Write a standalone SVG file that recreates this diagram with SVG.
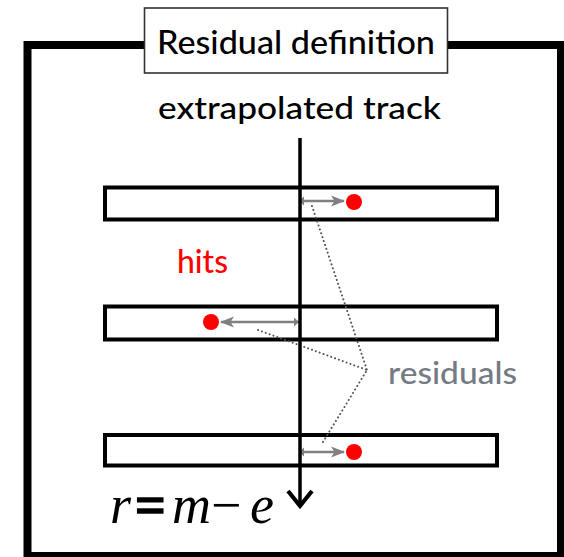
<svg xmlns="http://www.w3.org/2000/svg" width="564" height="557" viewBox="0 0 564 557">
<style>
.sans{font-family:Lato,"Open Sans","Liberation Sans",sans-serif;}
.bar{fill:#fff;stroke:#000;stroke-width:4;}
.hit{fill:#ff0000;}
.res{stroke:#808080;stroke-width:2.4;fill:none;}
.dot{stroke:#555;stroke-width:2;stroke-linecap:round;stroke-dasharray:0.1 4;fill:none;}
.math{font-family:"Liberation Serif","DejaVu Serif",serif;font-size:54px;fill:#000;}
</style>
<defs>
<marker id="ah" viewBox="0 0 14 12" refX="13" refY="6" markerWidth="14" markerHeight="12" markerUnits="userSpaceOnUse" orient="auto">
<path d="M0,0.5 L14,6 L0,11.5 L3.5,6 Z" fill="#808080"/>
</marker>
<marker id="at" viewBox="0 0 6 10" refX="0" refY="5" markerWidth="6" markerHeight="10" markerUnits="userSpaceOnUse" orient="auto">
<path d="M0,5 L5,0.5 L5,9.5 Z" fill="#808080"/>
</marker>
</defs>
<rect width="564" height="557" fill="#fff"/>
<g id="frame">
<rect x="27.5" y="45" width="533.5" height="511" fill="none" stroke="#000" stroke-width="8"/>
</g>
<g id="title">
<rect x="144.5" y="8" width="303" height="65" fill="#fff" stroke="#333" stroke-width="1.6"/>
<text class="sans" x="157" y="54" font-size="33" font-weight="500" textLength="278" lengthAdjust="spacingAndGlyphs" fill="#000">Residual definition</text>
</g>
<g id="track-label">
<text class="sans" x="158" y="119" font-size="31" font-weight="500" textLength="283" lengthAdjust="spacingAndGlyphs" fill="#000">extrapolated track</text>
</g>
<g id="bar1"><rect class="bar" x="105" y="187.5" width="392" height="32"/></g>
<g id="bar2"><rect class="bar" x="105" y="306.5" width="392" height="33"/></g>
<g id="bar3"><rect class="bar" x="105" y="435" width="392" height="30.5"/></g>
<g id="connectors">
<line class="dot" x1="312" y1="206" x2="367" y2="370"/>
<line class="dot" x1="258" y1="330" x2="367" y2="370"/>
<line class="dot" x1="323" y1="442" x2="367" y2="370"/>
<line class="res" x1="299" y1="201" x2="344" y2="201" marker-start="url(#at)" marker-end="url(#ah)"/>
<line class="res" x1="299" y1="322" x2="221" y2="322" marker-start="url(#at)" marker-end="url(#ah)"/>
<line class="res" x1="299" y1="452" x2="344" y2="452" marker-start="url(#at)" marker-end="url(#ah)"/>
</g>
<g id="track">
<line x1="300" y1="138" x2="300" y2="505" stroke="#000" stroke-width="3.5"/>
<polyline points="288,491 300,506 312,491" fill="none" stroke="#000" stroke-width="4.2"/>
</g>
<g id="hit1"><circle class="hit" cx="354" cy="202" r="8"/></g>
<g id="hit2"><circle class="hit" cx="211" cy="322" r="8"/></g>
<g id="hit3"><circle class="hit" cx="354" cy="452" r="8"/></g>
<g id="hits-label">
<text class="sans" x="177" y="273" font-size="32" font-weight="500" textLength="51" lengthAdjust="spacingAndGlyphs" fill="#ff0000">hits</text>
</g>
<g id="residuals-label">
<text class="sans" x="388" y="384" font-size="30" font-weight="500" textLength="129" lengthAdjust="spacingAndGlyphs" fill="#757b84">residuals</text>
</g>
<g id="equation">
<text class="math" x="110" y="523" font-family="Liberation Serif, serif" font-style="italic">r</text>
<text class="math" x="135" y="523" font-family="Liberation Serif, serif" font-weight="bold" stroke="#000" stroke-width="1.5">=</text>
<text class="math" x="172" y="523" font-family="Liberation Serif, serif" font-style="italic">m</text>
<text class="math" x="211" y="523" font-family="Liberation Serif, serif">−</text>
<text class="math" x="250" y="523" font-family="Liberation Serif, serif" font-style="italic">e</text>
</g>
</svg>
